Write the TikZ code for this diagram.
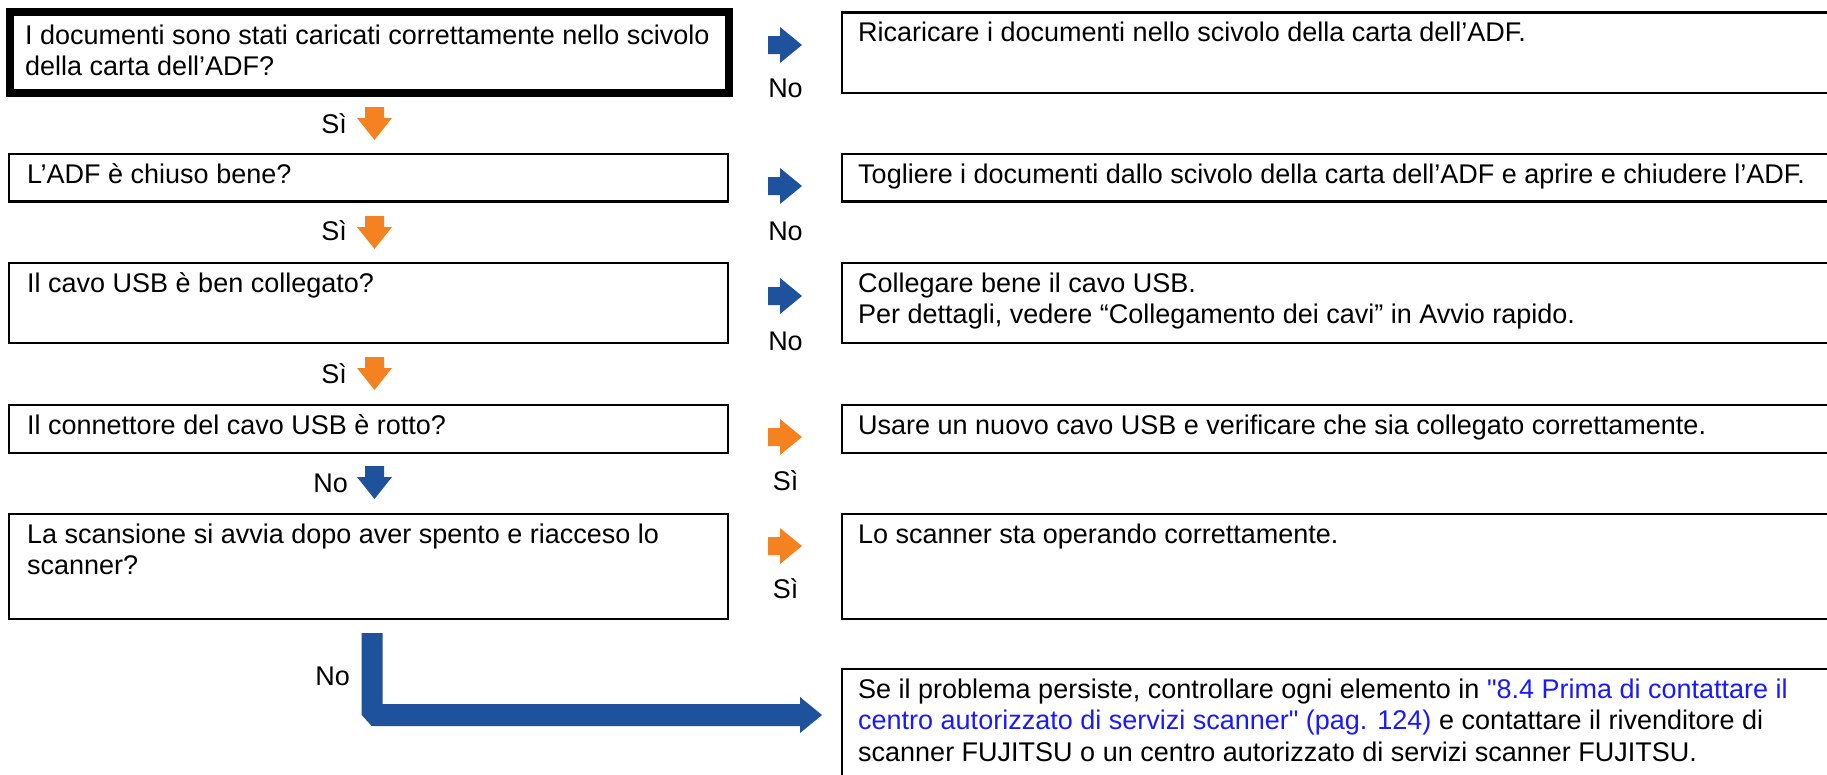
\documentclass[tikz,border=0pt]{standalone}
\usepackage{fontspec}
\setmainfont{Liberation Sans}[Ligatures=TeXOff]
\usetikzlibrary{calc}
\definecolor{nblue}{RGB}{30,82,156}
\definecolor{norange}{RGB}{245,130,32}
\definecolor{link}{RGB}{25,25,255}
\begin{document}
\begin{tikzpicture}[x=1pt,y=-1pt,
  box/.style={draw=black, line width=2.5pt, anchor=north west, inner sep=0pt, outer sep=0pt},
  thickbox/.style={box, line width=8pt},
  txt/.style={anchor=north west, inner sep=0pt, align=left, font=\fontsize{27}{31.5}\selectfont},
  lbl/.style={inner sep=0pt, font=\fontsize{27}{31.5}\selectfont},
  pics/rarr/.style={code={\fill (0,-9) -- (12,-9) -- (12,-18) -- (34,0) -- (12,18) -- (12,9) -- (0,9) -- cycle;}},
  pics/darr/.style={code={\fill (-9.5,0) -- (9.5,0) -- (9.5,11) -- (17.5,11) -- (0,33) -- (-17.5,11) -- (-9.5,11) -- cycle;}},
]
\useasboundingbox (0,0) rectangle (1827,774);
\clip (0,0) rectangle (1827,774);
\newcommand{\st}{\rule{0pt}{22pt}}
% left question boxes
\node[thickbox, minimum width=719pt, minimum height=81pt] (L1) at (10,11.5) {};
\node[box, minimum width=719pt, minimum height=47.5pt] (L2) at (9,154) {};
\node[box, minimum width=719pt, minimum height=80pt] (L3) at (9,263) {};
\node[box, minimum width=719pt, minimum height=48pt] (L4) at (9,405) {};
\node[box, minimum width=719pt, minimum height=105pt] (L5) at (9,514) {};
% right answer boxes
\node[box, minimum width=1000pt, minimum height=80.5pt] (R1) at (842,12.5) {};
\node[box, minimum width=1000pt, minimum height=47.5pt] (R2) at (842,154) {};
\node[box, minimum width=1000pt, minimum height=80pt] (R3) at (842,263) {};
\node[box, minimum width=1000pt, minimum height=48pt] (R4) at (842,405) {};
\node[box, minimum width=1000pt, minimum height=105pt] (R5) at (842,514) {};
\node[box, minimum width=1000pt, minimum height=130pt] (R6) at (842,669) {};
% texts
\node[txt] (tL1) at (25,22) {\st I documenti sono stati caricati correttamente nello scivolo\\della carta dell’ADF?};
\node[txt] (tL2) at (27,161) {\st L’ADF è chiuso bene?};
\node[txt] (tL3) at (27,270) {\st Il cavo USB è ben collegato?};
\node[txt] (tL4) at (27,412) {\st Il connettore del cavo USB è rotto?};
\node[txt] (tL5) at (27,521) {\st La scansione si avvia dopo aver spento e riacceso lo\\scanner?};
\node[txt] (tR1) at (858,19.5) {\st Ricaricare i documenti nello scivolo della carta dell’ADF.};
\node[txt] (tR2) at (858,161) {\st Togliere i documenti dallo scivolo della carta dell’ADF e aprire e chiudere l’ADF.};
\node[txt] (tR3) at (858,270) {\st Collegare bene il cavo USB.\\Per dettagli, vedere “Collegamento dei cavi” in Avvio rapido.};
\node[txt] (tR4) at (858,412) {\st Usare un nuovo cavo USB e verificare che sia collegato correttamente.};
\node[txt] (tR5) at (858,521) {\st Lo scanner sta operando correttamente.};
\node[txt] (tR6) at (858,676) {\st Se il problema persiste, controllare ogni elemento in \textcolor{link}{"8.4 Prima di contattare il}\\\textcolor{link}{centro autorizzato di servizi scanner" (pag. 124)} e contattare il rivenditore di\\scanner FUJITSU o un centro autorizzato di servizi scanner FUJITSU.};
% right arrows
\pic[fill=nblue] at (768,45) {rarr};
\pic[fill=nblue] at (768,186) {rarr};
\pic[fill=nblue] at (768,296) {rarr};
\pic[fill=norange] at (768,437) {rarr};
\pic[fill=norange] at (768,546) {rarr};
\node[lbl, anchor=base] (n1) at (785.5,97) {No};
\node[lbl, anchor=base] (n2) at (785.5,240) {No};
\node[lbl, anchor=base] (n3) at (785.5,350) {No};
\node[lbl, anchor=base] (s4) at (785.5,490) {Sì};
\node[lbl, anchor=base] (s5) at (785.5,598) {Sì};
% down arrows
\pic[fill=norange] at (374.5,107) {darr};
\pic[fill=norange] at (374.5,216) {darr};
\pic[fill=norange] at (374.5,357) {darr};
\pic[fill=nblue] at (374.5,466) {darr};
\node[lbl, anchor=base east] (d1) at (347,133) {Sì};
\node[lbl, anchor=base east] (d2) at (347,240) {Sì};
\node[lbl, anchor=base east] (d3) at (347,383) {Sì};
\node[lbl, anchor=base east] (d4) at (348,492) {No};
% big L arrow
\fill[nblue] (361.7,633) -- (382.7,633) -- (382.7,704) -- (800,704) -- (800,697) -- (822,715) -- (800,733) -- (800,726) -- (371.7,726) -- (361.7,715) -- cycle;
\node[lbl, anchor=base east] (d5) at (350,685) {No};
\end{tikzpicture}
\end{document}
